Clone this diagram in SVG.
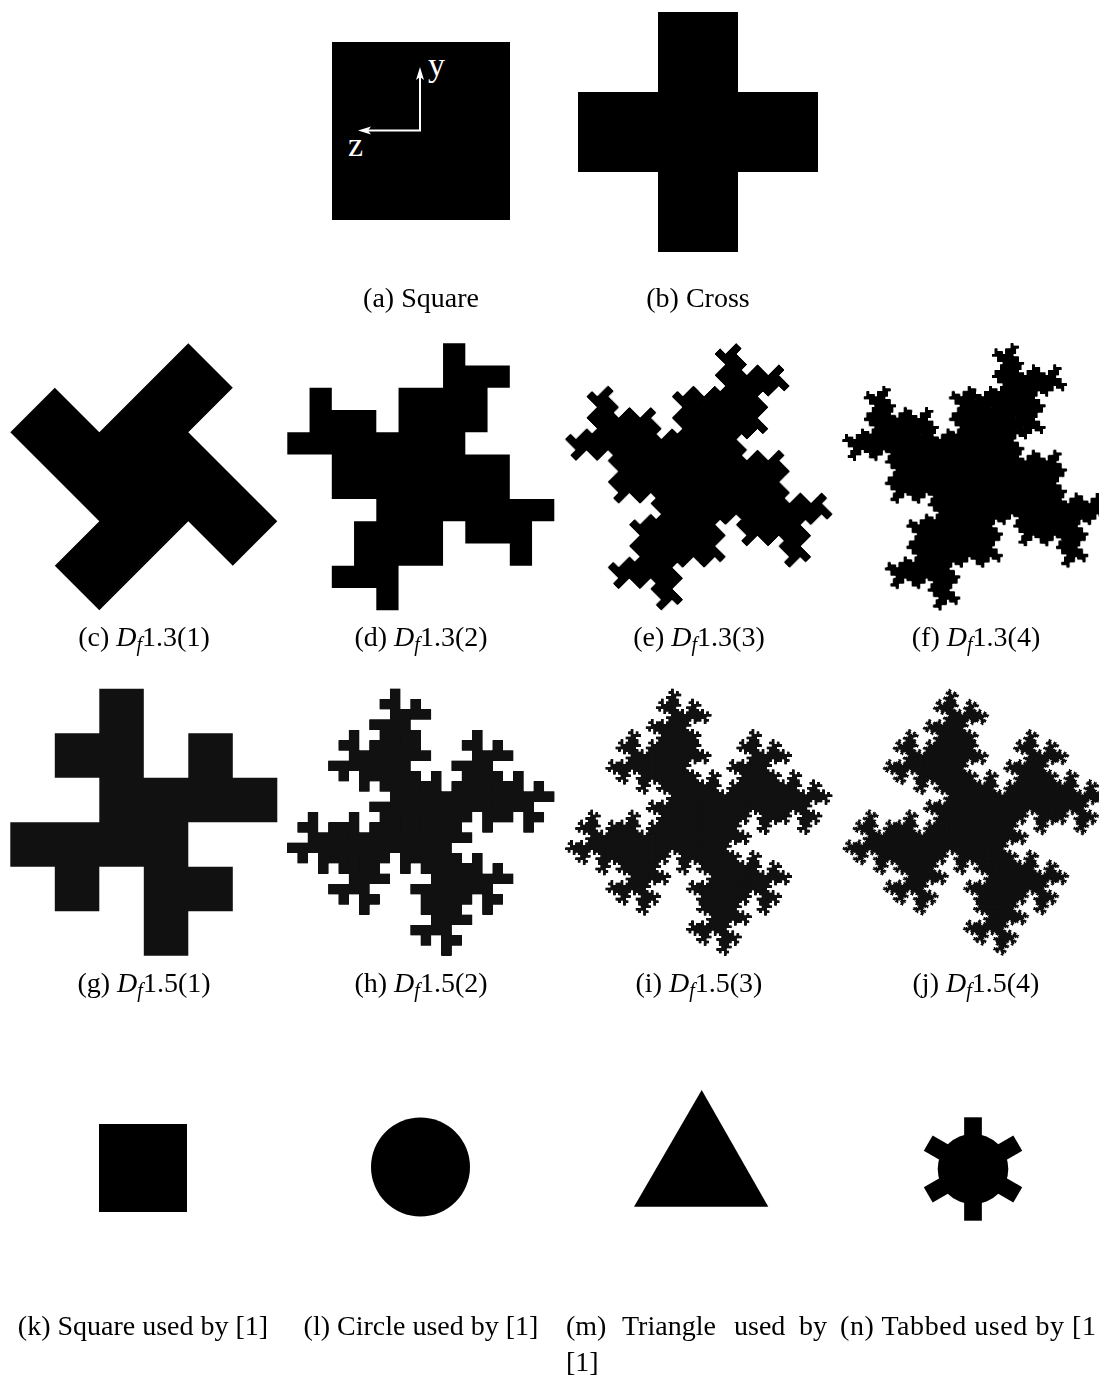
<svg xmlns="http://www.w3.org/2000/svg" width="1099" height="1386" viewBox="0 0 1099 1386">
<style>
text{font-family:"Liberation Serif","Times New Roman",serif;font-size:28px;fill:#000}
.ax{stroke:#fff;stroke-width:2;fill:none}
.axl{fill:#fff;font-size:34px}
.k{fill:#000}
.g{fill:#111}
.fr{filter:url(#solid)}
</style>
<defs>
<filter id="solid" x="-5%" y="-5%" width="110%" height="110%" color-interpolation-filters="sRGB">
<feComponentTransfer><feFuncA type="linear" slope="1.5" intercept="0"/></feComponentTransfer>
</filter>
<marker id="ah" markerUnits="userSpaceOnUse" markerWidth="14" markerHeight="9" refX="8" refY="4" orient="auto">
<path d="M0,0 L13,4 L0,8 L3,4 z" fill="#fff"/>
</marker>
<polygon id="p13a" points="44.5,-133.5 89,-89 44.5,-44.5 133.5,44.5 89,89 44.5,44.5 -44.5,133.5 -89,89 -44.5,44.5 -133.5,-44.5 -89,-89 -44.5,-44.5"/>
<polygon id="p13b" points="22.25,-133.5 44.5,-133.5 44.5,-111.25 89,-111.25 89,-89 66.75,-89 66.75,-44.5 44.5,-44.5 44.5,-22.25 89,-22.25 89,22.25 133.5,22.25 133.5,44.5 111.25,44.5 111.25,89 89,89 89,66.75 44.5,66.75 44.5,44.5 22.25,44.5 22.25,89 -22.25,89 -22.25,133.5 -44.5,133.5 -44.5,111.25 -89,111.25 -89,89 -66.75,89 -66.75,44.5 -44.5,44.5 -44.5,22.25 -89,22.25 -89,-22.25 -133.5,-22.25 -133.5,-44.5 -111.25,-44.5 -111.25,-89 -89,-89 -89,-66.75 -44.5,-66.75 -44.5,-44.5 -22.25,-44.5 -22.25,-89 22.25,-89"/>
<g id="p13c">
<use href="#p13b" transform="translate(44.5,-89) rotate(45) scale(0.353553)"/>
<use href="#p13b" transform="translate(89,44.5) rotate(45) scale(0.353553)"/>
<use href="#p13b" transform="translate(-44.5,89) rotate(45) scale(0.353553)"/>
<use href="#p13b" transform="translate(-89,-44.5) rotate(45) scale(0.353553)"/>
<use href="#p13b" transform="translate(44.5,0) rotate(45) scale(0.353553)"/>
<use href="#p13b" transform="translate(0,-44.5) rotate(45) scale(0.353553)"/>
<use href="#p13b" transform="translate(0,44.5) rotate(45) scale(0.353553)"/>
<use href="#p13b" transform="translate(-44.5,0) rotate(45) scale(0.353553)"/>
</g>
<polygon id="p15a" points="-44.5,-133.5 0,-133.5 0,-44.5 44.5,-44.5 44.5,-89 89,-89 89,-44.5 133.5,-44.5 133.5,0 44.5,0 44.5,44.5 89,44.5 89,89 44.5,89 44.5,133.5 0,133.5 0,44.5 -44.5,44.5 -44.5,89 -89,89 -89,44.5 -133.5,44.5 -133.5,0 -44.5,0 -44.5,-44.5 -89,-44.5 -89,-89 -44.5,-89"/>
<g id="p15b">
<use href="#p15a" transform="translate(-22.25,-22.25) scale(0.25)"/>
<use href="#p15a" transform="translate(22.25,-22.25) scale(0.25)"/>
<use href="#p15a" transform="translate(-22.25,22.25) scale(0.25)"/>
<use href="#p15a" transform="translate(22.25,22.25) scale(0.25)"/>
<use href="#p15a" transform="translate(-22.25,-111.25) scale(0.25)"/>
<use href="#p15a" transform="translate(-22.25,-66.75) scale(0.25)"/>
<use href="#p15a" transform="translate(-66.75,-66.75) scale(0.25)"/>
<use href="#p15a" transform="translate(66.75,-66.75) scale(0.25)"/>
<use href="#p15a" transform="translate(66.75,-22.25) scale(0.25)"/>
<use href="#p15a" transform="translate(111.25,-22.25) scale(0.25)"/>
<use href="#p15a" transform="translate(22.25,66.75) scale(0.25)"/>
<use href="#p15a" transform="translate(22.25,111.25) scale(0.25)"/>
<use href="#p15a" transform="translate(66.75,66.75) scale(0.25)"/>
<use href="#p15a" transform="translate(-111.25,22.25) scale(0.25)"/>
<use href="#p15a" transform="translate(-66.75,22.25) scale(0.25)"/>
<use href="#p15a" transform="translate(-66.75,66.75) scale(0.25)"/>
</g>
<g id="p15c">
<use href="#p15b" transform="translate(-22.25,-22.25) scale(0.25)"/>
<use href="#p15b" transform="translate(22.25,-22.25) scale(0.25)"/>
<use href="#p15b" transform="translate(-22.25,22.25) scale(0.25)"/>
<use href="#p15b" transform="translate(22.25,22.25) scale(0.25)"/>
<use href="#p15b" transform="translate(-22.25,-111.25) scale(0.25)"/>
<use href="#p15b" transform="translate(-22.25,-66.75) scale(0.25)"/>
<use href="#p15b" transform="translate(-66.75,-66.75) scale(0.25)"/>
<use href="#p15b" transform="translate(66.75,-66.75) scale(0.25)"/>
<use href="#p15b" transform="translate(66.75,-22.25) scale(0.25)"/>
<use href="#p15b" transform="translate(111.25,-22.25) scale(0.25)"/>
<use href="#p15b" transform="translate(22.25,66.75) scale(0.25)"/>
<use href="#p15b" transform="translate(22.25,111.25) scale(0.25)"/>
<use href="#p15b" transform="translate(66.75,66.75) scale(0.25)"/>
<use href="#p15b" transform="translate(-111.25,22.25) scale(0.25)"/>
<use href="#p15b" transform="translate(-66.75,22.25) scale(0.25)"/>
<use href="#p15b" transform="translate(-66.75,66.75) scale(0.25)"/>
</g>
</defs>

<g id="fig-a">
<rect class="k" x="332" y="42" width="178" height="178"/>
<line class="ax" x1="420" y1="131" x2="420" y2="72" marker-end="url(#ah)"/>
<line class="ax" x1="421" y1="130.5" x2="363" y2="130.5" marker-end="url(#ah)"/>
<text class="axl" x="428" y="76">y</text>
<text class="axl" x="348" y="156">z</text>
</g>
<g id="fig-b">
<path class="k" d="M658,12 H738 V92 H818 V172 H738 V252 H658 V172 H578 V92 H658 Z"/>
</g>

<g id="fig-c" class="k" transform="translate(143.8,476.7)"><use href="#p13a"/></g>
<g id="fig-d" class="k" transform="translate(420.8,476.7)"><use href="#p13b"/></g>
<g id="fig-e" class="fr"><g class="k" transform="translate(698.8,476.7) scale(0.96)"><use href="#p13c"/></g></g>
<g id="fig-f" class="fr"><g class="k" transform="translate(976,476.7) scale(0.96)">
<use href="#p13c" transform="translate(44.5,-89) rotate(45) scale(0.353553)"/>
<use href="#p13c" transform="translate(89,44.5) rotate(45) scale(0.353553)"/>
<use href="#p13c" transform="translate(-44.5,89) rotate(45) scale(0.353553)"/>
<use href="#p13c" transform="translate(-89,-44.5) rotate(45) scale(0.353553)"/>
<use href="#p13c" transform="translate(44.5,0) rotate(45) scale(0.353553)"/>
<use href="#p13c" transform="translate(0,-44.5) rotate(45) scale(0.353553)"/>
<use href="#p13c" transform="translate(0,44.5) rotate(45) scale(0.353553)"/>
<use href="#p13c" transform="translate(-44.5,0) rotate(45) scale(0.353553)"/>
</g></g>

<g id="fig-g" class="g" transform="translate(143.8,822.3)"><use href="#p15a"/></g>
<g id="fig-h" class="fr"><g class="g" transform="translate(420.8,822.3) scale(0.923)"><use href="#p15b"/></g></g>
<g id="fig-i" class="fr"><g class="g" transform="translate(698.8,822.3) scale(0.9057)"><use href="#p15c"/></g></g>
<g id="fig-j" class="fr"><g class="g" transform="translate(976,822.3) scale(0.9014)">
<use href="#p15c" transform="translate(-22.25,-22.25) scale(0.25)"/>
<use href="#p15c" transform="translate(22.25,-22.25) scale(0.25)"/>
<use href="#p15c" transform="translate(-22.25,22.25) scale(0.25)"/>
<use href="#p15c" transform="translate(22.25,22.25) scale(0.25)"/>
<use href="#p15c" transform="translate(-22.25,-111.25) scale(0.25)"/>
<use href="#p15c" transform="translate(-22.25,-66.75) scale(0.25)"/>
<use href="#p15c" transform="translate(-66.75,-66.75) scale(0.25)"/>
<use href="#p15c" transform="translate(66.75,-66.75) scale(0.25)"/>
<use href="#p15c" transform="translate(66.75,-22.25) scale(0.25)"/>
<use href="#p15c" transform="translate(111.25,-22.25) scale(0.25)"/>
<use href="#p15c" transform="translate(22.25,66.75) scale(0.25)"/>
<use href="#p15c" transform="translate(22.25,111.25) scale(0.25)"/>
<use href="#p15c" transform="translate(66.75,66.75) scale(0.25)"/>
<use href="#p15c" transform="translate(-111.25,22.25) scale(0.25)"/>
<use href="#p15c" transform="translate(-66.75,22.25) scale(0.25)"/>
<use href="#p15c" transform="translate(-66.75,66.75) scale(0.25)"/>
</g></g>

<g id="fig-k"><rect class="k" x="99" y="1124" width="88" height="88"/></g>
<g id="fig-l"><circle class="k" cx="420.5" cy="1167" r="49.5"/></g>
<g id="fig-m"><polygon class="k" points="701.7,1090 768.3,1206.7 634,1206.7"/></g>
<g id="fig-n" class="k" transform="translate(973,1169)">
<circle r="35.3"/>
<rect x="-8.85" y="-51.7" width="17.7" height="103.4"/>
<rect x="-8.85" y="-51.7" width="17.7" height="103.4" transform="rotate(60)"/>
<rect x="-8.85" y="-51.7" width="17.7" height="103.4" transform="rotate(-60)"/>
</g>

<g id="labels">
<text x="421" y="307" text-anchor="middle">(a) Square</text>
<text x="698" y="307" text-anchor="middle">(b) Cross</text>
<text x="144" y="646" text-anchor="middle">(c) <tspan font-style="italic">D</tspan><tspan font-style="italic" font-size="20" dy="5">f</tspan><tspan dy="-5">1.3(1)</tspan></text>
<text x="421" y="646" text-anchor="middle">(d) <tspan font-style="italic">D</tspan><tspan font-style="italic" font-size="20" dy="5">f</tspan><tspan dy="-5">1.3(2)</tspan></text>
<text x="699" y="646" text-anchor="middle">(e) <tspan font-style="italic">D</tspan><tspan font-style="italic" font-size="20" dy="5">f</tspan><tspan dy="-5">1.3(3)</tspan></text>
<text x="976" y="646" text-anchor="middle">(f) <tspan font-style="italic">D</tspan><tspan font-style="italic" font-size="20" dy="5">f</tspan><tspan dy="-5">1.3(4)</tspan></text>
<text x="144" y="992" text-anchor="middle">(g) <tspan font-style="italic">D</tspan><tspan font-style="italic" font-size="20" dy="5">f</tspan><tspan dy="-5">1.5(1)</tspan></text>
<text x="421" y="992" text-anchor="middle">(h) <tspan font-style="italic">D</tspan><tspan font-style="italic" font-size="20" dy="5">f</tspan><tspan dy="-5">1.5(2)</tspan></text>
<text x="699" y="992" text-anchor="middle">(i) <tspan font-style="italic">D</tspan><tspan font-style="italic" font-size="20" dy="5">f</tspan><tspan dy="-5">1.5(3)</tspan></text>
<text x="976" y="992" text-anchor="middle">(j) <tspan font-style="italic">D</tspan><tspan font-style="italic" font-size="20" dy="5">f</tspan><tspan dy="-5">1.5(4)</tspan></text>
<text x="143" y="1335" text-anchor="middle">(k) Square used by [1]</text>
<text x="421" y="1335" text-anchor="middle">(l) Circle used by [1]</text>
<text y="1335"><tspan x="566">(m)</tspan><tspan x="622">Triangle</tspan><tspan x="734">used</tspan><tspan x="799">by</tspan></text>
<text x="566" y="1371">[1]</text>
<text x="840" y="1335" textLength="256" lengthAdjust="spacing">(n) Tabbed used by [1</text>
</g>
</svg>
